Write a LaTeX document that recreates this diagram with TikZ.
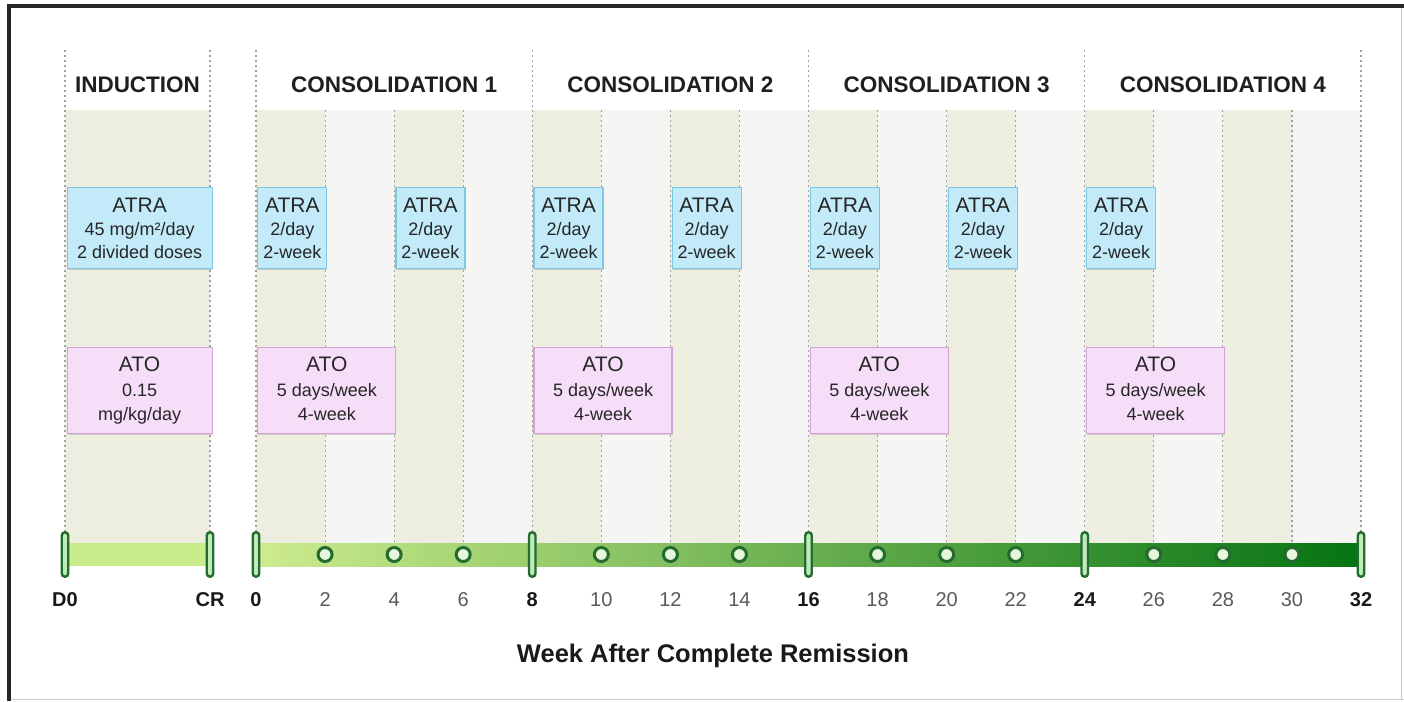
\documentclass[tikz,border=0pt]{standalone}
\usepackage{fontspec}
\setmainfont{Liberation Sans}
\usetikzlibrary{shadows}

\definecolor{beige}{HTML}{EDEDE0}
\definecolor{panelgrey}{HTML}{F5F5F4}
\definecolor{atrafill}{HTML}{C2EAF8}
\definecolor{atradraw}{HTML}{7CC8E2}
\definecolor{atofill}{HTML}{F6DDF8}
\definecolor{atodraw}{HTML}{D3A3D8}
\definecolor{barlight}{HTML}{C8EC8C}
\definecolor{barstart}{HTML}{CDEC8E}
\definecolor{barmid}{HTML}{64A848}
\definecolor{barend}{HTML}{057312}
\definecolor{tickgreen}{HTML}{236B2E}
\definecolor{capfill}{HTML}{BFEBB9}
\definecolor{dotfill}{HTML}{E6F7DC}
\definecolor{guide}{HTML}{A0A0A0}
\definecolor{framedark}{HTML}{262626}
\definecolor{framelight}{HTML}{CCCCCC}

% larger first line (drug name) inside the treatment boxes
\newcommand\drugfont{\fontsize{21}{23}\selectfont}

\begin{document}
\begin{tikzpicture}[x=1pt,y=-1pt,
  guideline/.style={draw=guide, line width=1.1pt, dash pattern=on 2pt off 3pt},
  hdr/.style={font=\fontsize{22.5}{27}\selectfont\bfseries, text=black!88, anchor=base, inner sep=0pt},
  ticklbl/.style={font=\fontsize{20}{24}\selectfont, text=black!65, anchor=base, inner sep=0pt},
  phaselbl/.style={ticklbl, font=\fontsize{20}{24}\selectfont\bfseries, text=black!90},
  softshadow/.style={drop shadow={shadow xshift=0.6pt, shadow yshift=-1.6pt, opacity=0.3}},
  atrabox/.style={draw=atradraw, line width=1.2pt, fill=atrafill, minimum height=81pt,
    inner sep=0pt, anchor=north west, softshadow},
  atobox/.style={draw=atodraw, line width=1.2pt, fill=atofill, minimum height=86pt,
    inner sep=0pt, anchor=north west, softshadow},
  boxtext/.style={align=center, inner sep=0pt, anchor=north, text=black!85,
    font=\fontsize{18}{23}\selectfont},
  atotext/.style={boxtext, font=\fontsize{18}{24.5}\selectfont},
  capsule/.style={draw=tickgreen, line width=2.4pt, fill=capfill, rounded corners=3.2pt,
    minimum width=6.5pt, minimum height=44.5pt, inner sep=0pt},
  dot/.style={circle, draw=tickgreen, line width=3pt, fill=dotfill, minimum size=14pt, inner sep=0pt},
  title/.style={font=\fontsize{25.5}{30}\selectfont\bfseries, text=black!90, anchor=base, inner sep=0pt}
]
\useasboundingbox (0,0) rectangle (1404,701);

% outer frame
\draw[framelight, line width=1.5pt] (11,699.3) -- (1404,699.3);
\draw[framelight, line width=1pt] (1401.5,8) -- (1401.5,699);
\draw[framedark, line width=3.4pt] (9,3.8) -- (9,701);
\draw[framedark, line width=4pt] (7.3,5.8) -- (1404,5.8);

% induction column
\fill[beige] (65,110) rectangle (210,543);
\draw[guideline] (65,50) -- (65,531);
\draw[guideline] (210,50) -- (210,531);
\node[hdr] (hInd) at (137.5,92) {INDUCTION};

% induction treatment boxes
\node[atrabox, minimum width=145pt] (atraInd) at (66.5,187) {};
\node[boxtext] (atraIndT) at ([yshift=-10.5pt]atraInd.north)
  {{\drugfont ATRA}\\45 mg/m²/day\\2 divided doses};
\node[atobox, minimum width=145pt] (atoInd) at (66.5,347) {};
\node[atotext] (atoIndT) at ([yshift=-10pt]atoInd.north)
  {{\drugfont ATO}\\0.15\\mg/kg/day};

% induction timeline
\fill[barlight] (65,543) rectangle (210,566);
\node[capsule] (tD0) at (65,554.5) {};
\node[capsule] (tCR) at (210,554.5) {};
\node[phaselbl] (lD0) at (65,606) {D0};
\node[phaselbl] (lCR) at (210,606) {CR};

% consolidation: one x unit is one week
\begin{scope}[xshift=256pt, x=34.53125pt]
  \fill[panelgrey] (0,110) rectangle (32,543);
  \foreach \w in {0,4,...,28} \fill[beige] (\w,110) rectangle (\w+2,543);
  \foreach \w in {0,8,...,32} \draw[guideline] (\w,50) -- (\w,531);
  \foreach \w in {2,4,6,10,12,14,18,20,22,26,28,30} \draw[guideline] (\w,110) -- (\w,543);

  % course headers
  \foreach \k in {1,2,3,4}
    \node[hdr] (hC\k) at ({8*\k-4},92) {CONSOLIDATION \k};

  % ATRA: two weeks on, two weeks off
  \foreach \w in {0,4,...,24} {
    \node[atrabox, minimum width=69pt] (atra\w) at ([xshift=1.2pt]\w,187) {};
    \node[boxtext] (atra\w T) at ([yshift=-10.5pt]atra\w.north)
      {{\drugfont ATRA}\\2/day\\2-week};
  }
  % ATO: four weeks at the start of each course
  \foreach \w in {0,8,16,24} {
    \node[atobox, minimum width=138pt] (ato\w) at ([xshift=1.2pt]\w,347) {};
    \node[atotext] (ato\w T) at ([yshift=-10pt]ato\w.north)
      {{\drugfont ATO}\\5 days/week\\4-week};
  }

  % timeline bar, darkening towards the last course
  \shade[left color=barstart, middle color=barmid, right color=barend] (0,543) rectangle (32,566);
  \foreach \w in {0,8,...,32} {
    \node[capsule] (t\w) at (\w,554.5) {};
    \node[phaselbl] (l\w) at (\w,606) {\w};
  }
  \foreach \w in {2,4,6,10,12,14,18,20,22,26,28,30} {
    \node[dot] (t\w) at (\w,554.5) {};
    \node[ticklbl] (l\w) at (\w,606) {\w};
  }
\end{scope}

\node[title] (axis) at (713,662) {Week After Complete Remission};
\end{tikzpicture}
\end{document}
